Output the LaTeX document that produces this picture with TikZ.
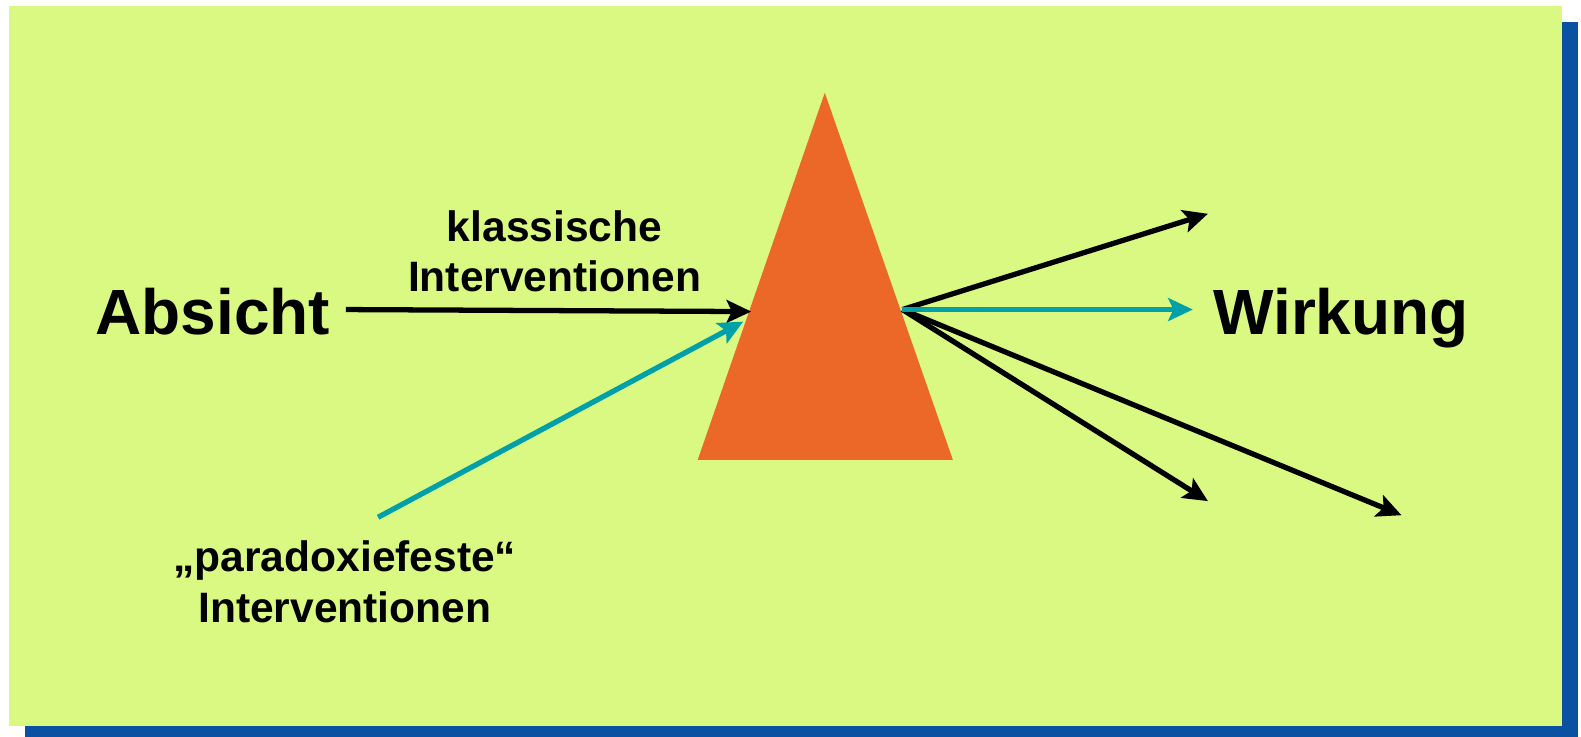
\documentclass[tikz,border=0pt]{standalone}
\usepackage{fontspec}
\setmainfont{Liberation Sans}
\usetikzlibrary{arrows.meta}
\definecolor{panelgreen}{RGB}{217,249,131}
\definecolor{shadowblue}{RGB}{11,81,161}
\definecolor{prismorange}{RGB}{236,104,40}
\definecolor{rayteal}{RGB}{0,160,168}
\tikzset{
  bigword/.style={font=\fontsize{18.2}{22}\selectfont\bfseries, inner sep=0pt, anchor=base},
  smallword/.style={font=\fontsize{12.1}{14.3}\selectfont\bfseries, align=center, inner sep=0pt},
  rayblack/.style={-{Stealth[length=7pt,width=6.5pt,inset=1.5pt]}, line width=1.5pt, draw=black},
  rayteal/.style={-{Stealth[length=7pt,width=6.5pt,inset=1.5pt]}, line width=1.5pt, draw=rayteal}
}

\begin{document}
\begin{tikzpicture}[x=1.0083cm,y=1.0083cm]
  \useasboundingbox (0,0.06) rectangle (15.68,7.36);
  % panel with shadow
  \fill[shadowblue] (0.25,-0.10) rectangle (15.65,7.14);
  \fill[panelgreen] (0.09,0.16) rectangle (15.49,7.30);

  % prism
  \fill[prismorange] (8.18,6.44) -- (6.92,2.80) -- (9.45,2.80) -- cycle;

  % left
  \node[bigword] (absicht) at (2.11,4.04) {Absicht};
  \node[smallword] (klassisch) at (5.50,4.87) {klassische\\Interventionen};
  \node[smallword] (paradox) at (3.42,1.59) {„paradoxiefeste“\\Interventionen};
  \coordinate (a-start) at (3.43,4.29);
  \coordinate (a-end) at (7.45,4.27);
  \coordinate (p-start) at (3.75,2.23);
  \coordinate (p-end) at (7.37,4.17);
  \draw[rayblack] (a-start) -- (a-end);
  \draw[rayteal] (p-start) -- (p-end);

  % right
  \node[bigword] (wirkung) at (13.30,4.04) {Wirkung};
  \coordinate (out) at (8.95,4.29);
  \coordinate (r-up) at (11.98,5.24);
  \coordinate (r-mid) at (11.83,4.29);
  \coordinate (r-down) at (11.98,2.39);
  \coordinate (r-far) at (13.90,2.25);
  \draw[rayblack] (out) -- (r-up);
  \draw[rayblack] (out) -- (r-down);
  \draw[rayblack] (out) -- (r-far);
  \draw[rayteal] (out) -- (r-mid);
\end{tikzpicture}
\end{document}
